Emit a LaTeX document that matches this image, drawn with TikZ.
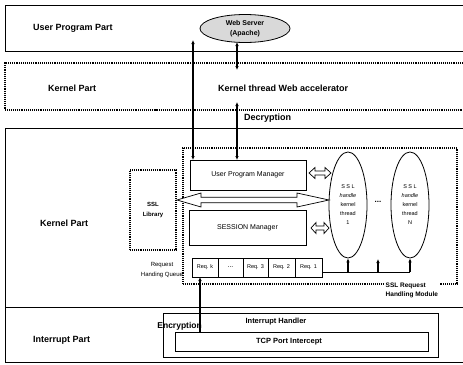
\documentclass[tikz,border=0pt]{standalone}
\usepackage{fontspec}
\setmainfont{Liberation Sans}
\usetikzlibrary{arrows.meta,shapes.geometric}
\begin{document}
\begin{tikzpicture}[x=1pt,y=-1pt,
  part/.style={font=\fontsize{9}{11}\selectfont\bfseries, anchor=west, inner sep=0pt},
  frameline/.style={line width=1pt},
  box/.style={draw, line width=0.8pt, rectangle, inner sep=0pt, outer sep=0pt},
  dotbox/.style={draw, line width=1.3pt, dash pattern=on 1pt off 0.9pt},
  small/.style={font=\fontsize{7}{8}\selectfont},
  tiny/.style={font=\fontsize{5.5}{6.5}\selectfont},
  arr/.style={-{Latex[length=4pt,width=3.6pt]}, line width=1.1pt},
  darr/.style={{Latex[length=4pt,width=3.6pt]}-{Latex[length=4pt,width=3.6pt]}, line width=1.1pt},
  hollow/.style={draw, line width=0.7pt, fill=white},
  qbox/.style={box, minimum height=19pt, tiny}
]
\useasboundingbox (0,0) rectangle (463,364);

% ---- frames ----
\draw[frameline] (463,5) -- (5,5) -- (5,51) -- (463,51);
\draw[dotbox] (463,63) -- (5,63) -- (5,110) -- (463,110);
\draw[frameline] (463,128) -- (5,128) -- (5,362) -- (463,362);
\draw[line width=0.9pt] (5,307) -- (463,307);

% ---- part labels ----
\node[part] (upp) at (33,28) {User Program Part};
\node[part] (kp1) at (48,88) {Kernel Part};
\node[part] (ktw) at (218,88) {Kernel thread Web accelerator};
\node[part] (dec) at (244,118) {Decryption};
\node[part] (kp2) at (40,223) {Kernel Part};
\node[part] (ip) at (33,340) {Interrupt Part};

% ---- web server ----
\node[draw, ellipse, fill=gray!30, line width=0.8pt, minimum width=90pt, minimum height=28pt,
      inner sep=0pt, align=center, font=\fontsize{7}{9.5}\selectfont\bfseries] (web) at (245,28.5)
      {Web Server\\(Apache)};

% ---- SSL request handling module ----
\node[dotbox, minimum width=274pt, minimum height=136pt, inner sep=0pt] (mod) at (320,216) {};
\node[font=\fontsize{6.5}{9}\selectfont\bfseries, align=left, anchor=west, fill=white, inner sep=1.5pt]
      (modl) at (384,290) {SSL Request\\Handling Module};

\node[dotbox, minimum width=46pt, minimum height=80pt, inner sep=0pt, align=center,
      font=\fontsize{6}{10}\selectfont\bfseries] (lib) at (153,210) {SSL\\Library};

\node[box, minimum width=116pt, minimum height=30pt, small] (upm) at (248,175) {User Program Manager};
\node[box, minimum width=117pt, minimum height=35pt, small] (ses) at (247.5,227.5) {SESSION Manager};

\node[draw, ellipse, line width=0.8pt, minimum width=38pt, minimum height=106pt, inner sep=0pt,
      align=center, font=\fontsize{5.5}{9}\selectfont] (t1) at (348,205)
      {S S L\\\textit{handle}\\kernel\\thread\\1};
\node[draw, ellipse, line width=0.8pt, minimum width=38pt, minimum height=106pt, inner sep=0pt,
      align=center, font=\fontsize{5.5}{9}\selectfont] (t2) at (410,205)
      {S S L\\\textit{handle}\\kernel\\thread\\N};
\node[font=\fontsize{8}{9}\selectfont\bfseries] (dots) at (378,202) {...};

% ---- hollow arrows ----
\draw[hollow] (177,200) -- (201,193) -- (201,197.3) -- (297,197.3) -- (297,193) -- (329,200)
   -- (297,207) -- (297,202.7) -- (201,202.7) -- (201,207) -- cycle;
\draw[hollow] (309,173) -- (315,167.5) -- (315,171) -- (325,171) -- (325,167.5) -- (331,173)
   -- (325,178.5) -- (325,175) -- (315,175) -- (315,178.5) -- cycle;
\draw[hollow] (311,228) -- (316,222.5) -- (316,226) -- (324,226) -- (324,222.5) -- (329,228)
   -- (324,233.5) -- (324,230) -- (316,230) -- (316,233.5) -- cycle;

% ---- request queue ----
\node[qbox, minimum width=26pt] (qk) at (205,267.5) {Req. k};
\node[qbox, minimum width=25pt, font=\fontsize{7}{8}\selectfont] (qd) at (230.5,267.5) {...};
\node[qbox, minimum width=25pt] (q3) at (255.5,267.5) {Req. 3};
\node[qbox, minimum width=27pt] (q2) at (281.5,267.5) {Req. 2};
\node[qbox, minimum width=27pt] (q1) at (308.5,267.5) {Req. 1};
\node[font=\fontsize{6}{10}\selectfont, align=center, inner sep=0pt] (ql) at (162,270)
      {Request\\Handing Queue};

\coordinate (qe) at (322,272);
\coordinate (qf) at (410,272);
\draw[line width=0.8pt] (qe) -- (qf);
\draw[arr] (t1.south |- qe) -- (t1.south);
\draw[arr] (dots |- qe) -- ++(0,-13);
\draw[arr] (qf) -- (t2.south);

% ---- interrupt part ----
\node[box, minimum width=275pt, minimum height=44pt] (ih) at (300.5,335) {};
\node[font=\fontsize{7.5}{9}\selectfont\bfseries] (ihl) at (276,322) {Interrupt Handler};
\node[box, minimum width=253pt, minimum height=19pt] (tcp) at (301.5,341.5) {};
\node[font=\fontsize{7.5}{9}\selectfont\bfseries] (tcpl) at (289,341.5) {TCP Port Intercept};
\node[font=\fontsize{8.5}{10}\selectfont\bfseries, anchor=east, inner sep=0pt] (enc) at (202,326) {Encryption};

% ---- vertical connectors ----
\coordinate (a0) at (193,40);
\draw[darr] (a0) -- (a0 |- upm.north);
\coordinate (w1) at (237,42);
\coordinate (w2) at (237,70);
\draw[darr] (w1) -- (w2);
\coordinate (w3) at (237,102);
\draw[darr] (w3) -- (w3 |- upm.north);
\coordinate (e0) at (200,332);
\draw[arr] (e0) -- (e0 |- qk.south);
\end{tikzpicture}
\end{document}
